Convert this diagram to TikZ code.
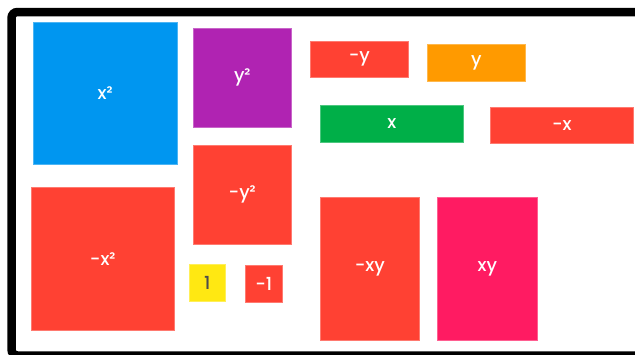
\documentclass[tikz,border=0pt]{standalone}
\usepackage{fontspec}
\setmainfont{Poppins}[UprightFont=* Medium]
\usepackage{xcolor}
\usepackage{tikz}
\usetikzlibrary{positioning}

\definecolor{tileblue}{HTML}{0096F0}
\definecolor{tilepurple}{HTML}{B023B2}
\definecolor{tilered}{HTML}{FF4133}
\definecolor{tileorange}{HTML}{FF9A00}
\definecolor{tilegreen}{HTML}{00AF48}
\definecolor{tileyellow}{HTML}{FFE812}
\definecolor{tilepink}{HTML}{FF1B62}

\begin{document}
\begin{tikzpicture}[
x=1pt, y=-1pt,
every node/.style={
rectangle,
anchor=north west,
inner sep=0pt,
text=white,
font=\fontsize{18}{21}\selectfont
},
tile/.style={draw=#1!70!white, line width=0.6pt, fill=#1}
]
\useasboundingbox (0,0) rectangle (635,354);

% frame, open on the right
\draw[line width=8.5pt, rounded corners=6pt] (660,12) -- (11.5,12) -- (11.5,355.5) -- (660,355.5);

\node[tile=tileblue, minimum width=144pt, minimum height=142pt] (xsq) at (33,22) {x²};
\node[tile=tilepurple, minimum width=98pt, minimum height=99pt] (ysq) at (193,28) {y²};
\node[tile=tilered, minimum width=98pt, minimum height=36pt] (negy) at (310,41) {−y};
\node[tile=tileorange, minimum width=98pt, minimum height=37pt] (posy) at (427,44) {y};
\node[tile=tilegreen, minimum width=143pt, minimum height=37pt] (posx) at (320,105) {x};
\node[tile=tilered, minimum width=143pt, minimum height=36pt] (negx) at (490,107) {−x};
\node[tile=tilered, minimum width=98pt, minimum height=99pt] (negysq) at (193,145) {−y²};
\node[tile=tilered, minimum width=143pt, minimum height=143pt] (negxsq) at (31,187) {−x²};
\node[tile=tileyellow, text=black!70, minimum width=36pt, minimum height=37pt] (one) at (189,264) {1};
\node[tile=tilered, minimum width=37pt, minimum height=37pt] (negone) at (245,265) {−1};
\node[tile=tilered, minimum width=99pt, minimum height=143pt] (negxy) at (320,197) {−xy};
\node[tile=tilepink, minimum width=100pt, minimum height=143pt] (posxy) at (437,197) {xy};

\end{tikzpicture}
\end{document}
